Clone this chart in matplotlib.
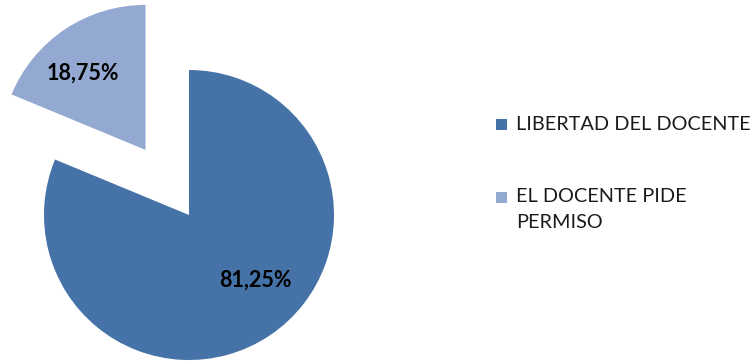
import matplotlib
matplotlib.use("Agg")
import matplotlib.pyplot as plt
from matplotlib.patches import Rectangle

categories = ["LIBERTAD DEL DOCENTE", "EL DOCENTE PIDE\nPERMISO"]
values = [81.25, 18.75]
pct_labels = ["81,25%", "18,75%"]
colors = ["#4572A7", "#94A9D1"]

W, H = 755, 362
fig = plt.figure(figsize=(W / 100, H / 100), dpi=100)
ax = fig.add_axes([0, 0, 1, 1])
R = 145.0
cx, cy = 189.0, H - 215.0

wedges, _ = ax.pie(values, colors=colors, startangle=90, counterclock=False,
                   explode=[0, 0.54], radius=1.0,
                   wedgeprops=dict(linewidth=0))
ax.set_xlim(-cx / R, (W - cx) / R)
ax.set_ylim(-cy / R, (H - cy) / R)
ax.set_aspect("auto")
ax.axis("off")

label_pos = [(0.455, -0.45), (-0.73, 0.98)]
for (x, y), t in zip(label_pos, pct_labels):
    ax.text(x, y, t, ha="center", va="center", fontsize=15.5, fontweight="bold",
            family="Lato", color="black")

# legend
leg_y = [124.5, 197.5]
for yy, lab, col in zip(leg_y, categories, colors):
    fig.patches.append(Rectangle((496 / W, 1 - (yy + 5.5) / H), 11 / W, 11 / H,
                                 transform=fig.transFigure, facecolor=col,
                                 edgecolor="none"))
    fig.text(516 / W, 1 - (yy - 9) / H, lab, ha="left", va="top",
             fontsize=14.3, family="Lato", color="#1a1a1a", linespacing=1.64)

fig.savefig("out.png", dpi=100)
